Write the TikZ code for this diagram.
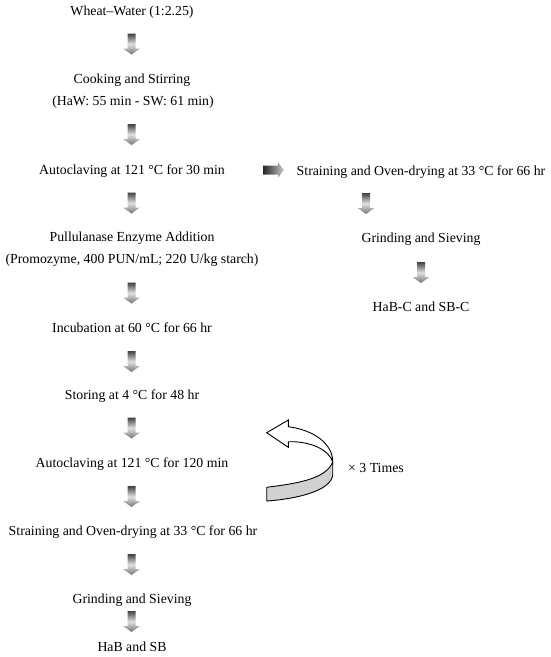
\documentclass[tikz,border=0pt]{standalone}
\usepackage{fontspec}
\setmainfont{Liberation Serif}
\usetikzlibrary{calc}
\tikzset{
  lbl/.style={inner sep=0pt, font=\fontsize{13.8}{16}\selectfont},
  downshade/.style={top color=black!75, bottom color=black!55, middle color=black!12, draw=none},
  rightshade/.style={left color=black!85, right color=black!20, draw=none},
  loopband/.style={draw=black, line width=0.9pt, fill=black!18, line join=round},
  loophead/.style={draw=black, line width=0.9pt, fill=white, line join=miter},
}
% down block arrow centred at a named coordinate
\newcommand\downarr[2]{%
  \coordinate (#1) at #2;
  \shade[downshade] ($(#1)+(-4,-10.5)$) -- ($(#1)+(4,-10.5)$) -- ($(#1)+(4,4.5)$) -- ($(#1)+(8.5,4.5)$)
     -- ($(#1)+(0,10.5)$) -- ($(#1)+(-8.5,4.5)$) -- ($(#1)+(-4,4.5)$) -- cycle;
}
\begin{document}
\begin{tikzpicture}[x=1pt,y=-1pt]
\path[use as bounding box, fill=white] (0,0) rectangle (550,657);

% main column
\node[lbl] (t1) at (132,12) {Wheat–Water (1:2.25)};
\node[lbl] (t2) at (132,80) {Cooking and Stirring};
\node[lbl] (t2b) at (133,102) {(HaW: 55 min - SW: 61 min)};
\node[lbl] (t3) at (132,171) {Autoclaving at 121 °C for 30 min};
\node[lbl] (t4) at (132,238) {Pullulanase Enzyme Addition};
\node[lbl] (t4b) at (132,260) {(Promozyme, 400 PUN/mL; 220 U/kg starch)};
\node[lbl] (t5) at (132,328) {Incubation at 60 °C for 66 hr};
\node[lbl] (t6) at (132,396) {Storing at 4 °C for 48 hr};
\node[lbl] (t7) at (132,464) {Autoclaving at 121 °C for 120 min};
\node[lbl] (t8) at (133,532) {Straining and Oven-drying at 33 °C for 66 hr};
\node[lbl] (t9) at (132,600) {Grinding and Sieving};
\node[lbl] (t10) at (132,647) {HaB and SB};

% right column
\node[lbl] (r1) at (421,172) {Straining and Oven-drying at 33 °C for 66 hr};
\node[lbl] (r2) at (421,239) {Grinding and Sieving};
\node[lbl] (r3) at (421,307) {HaB-C and SB-C};

\node[lbl] (x3) at (376,468) {× 3 Times};

% down arrows, main column
\downarr{a1}{(131.5,44)}
\downarr{a2}{(131.5,134.5)}
\downarr{a3}{(131.5,203)}
\downarr{a4}{(131.5,293)}
\downarr{a5}{(131.5,361.5)}
\downarr{a6}{(131.5,428)}
\downarr{a7}{(131.5,496.5)}
\downarr{a8}{(131.5,564.5)}
\downarr{a9}{(131.5,621.5)}
% down arrows, right column
\downarr{ra1}{(366,203.5)}
\downarr{ra2}{(421,272.5)}

% right arrow
\coordinate (ar) at (273.5,170);
\shade[rightshade] ($(ar)+(-10.5,-4.5)$) -- ($(ar)+(4.5,-4.5)$) -- ($(ar)+(4.5,-7.5)$)
   -- ($(ar)+(10.5,0)$) -- ($(ar)+(4.5,7.5)$) -- ($(ar)+(4.5,4.5)$) -- ($(ar)+(-10.5,4.5)$) -- cycle;

% repeat loop arrow
\coordinate (lp) at (332.7,462);
\path[loopband] (lp) .. controls (326,480) and (292,484) .. (266.7,487.3)
   -- (266.7,501) .. controls (296,499) and (331,491) .. (332.7,475) -- cycle;
\path[loophead] (266.7,432.7) -- (288.3,420) -- (288.3,426.7)
   .. controls (314,430) and (333,444) .. (lp)
   .. controls (330,452) and (314,441) .. (288.3,441.7)
   -- (288.3,447.3) -- cycle;
\end{tikzpicture}
\end{document}
